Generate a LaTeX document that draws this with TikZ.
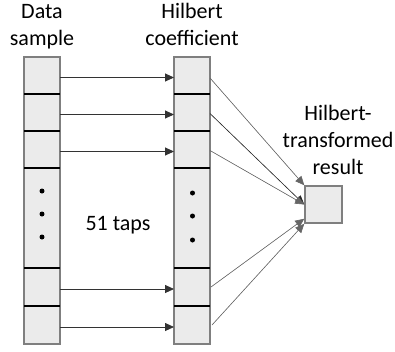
\documentclass[tikz,border=0pt]{standalone}
\usepackage{fontspec}
\setmainfont{Carlito}
\usetikzlibrary{arrows.meta}
\definecolor{cellfill}{HTML}{EBEBEB}
\definecolor{edgegray}{HTML}{7F7F7F}
\definecolor{fangray}{HTML}{666666}
\begin{document}
\begin{tikzpicture}[x=1pt,y=-1pt,
  cell/.style={minimum width=36pt,inner sep=0pt,outer sep=0pt},
  column/.style={draw=edgegray,fill=cellfill,line width=1.5pt,minimum width=36pt,inner sep=0pt,outer sep=0pt},
  sepline/.style={line width=1.3pt,black},
  feed/.style={-{Triangle[length=9pt,width=8pt]},line width=0.9pt,draw=black!80},
  fan/.style={-{Triangle[length=9pt,width=8pt]},line width=0.6pt,draw=fangray,fill=fangray},
  fandark/.style={fan,draw=black!85,fill=fangray},
  dot/.style={circle,fill=black,inner sep=0pt,minimum size=5pt},
  lbl/.style={font=\fontsize{22}{27}\selectfont,align=center,inner sep=0pt}]
\useasboundingbox (0,0) rectangle (395,351);

% column outlines
\node[column,minimum height=287pt] (LC) at (42,200.5) {};
\node[column,minimum height=287pt] (RC) at (192,200.5) {};

% tap cells of the data column
\node[cell,minimum height=37pt]  (L1) at (42,75.5) {};
\node[cell,minimum height=37pt]  (L2) at (42,112.5) {};
\node[cell,minimum height=37pt]  (L3) at (42,149.5) {};
\node[cell,minimum height=100pt] (L4) at (42,218) {};
\node[cell,minimum height=38pt]  (L5) at (42,287) {};
\node[cell,minimum height=38pt]  (L6) at (42,325) {};

% tap cells of the coefficient column
\node[cell,minimum height=37pt]  (R1) at (192,75.5) {};
\node[cell,minimum height=37pt]  (R2) at (192,112.5) {};
\node[cell,minimum height=37pt]  (R3) at (192,149.5) {};
\node[cell,minimum height=100pt] (R4) at (192,218) {};
\node[cell,minimum height=38pt]  (R5) at (192,287) {};
\node[cell,minimum height=38pt]  (R6) at (192,325) {};

% cell separators
\foreach \c in {L1,L2,L3,L4,L5,R1,R2,R3,R4,R5}
  \draw[sepline] (\c.south west) -- (\c.south east);

% ellipsis dots
\node[dot] (ld1) at (42,191) {};
\node[dot] (ld2) at (42,214) {};
\node[dot] (ld3) at (42,237) {};
\node[dot] (rd1) at (192.5,193) {};
\node[dot] (rd2) at (192.5,216) {};
\node[dot] (rd3) at (192.5,240) {};

% output box
\node[draw=edgegray,fill=cellfill,line width=1.5pt,minimum size=37pt,inner sep=0pt] (B) at (323.5,204.5) {};

% data into coefficients
\foreach \i in {1,2,3,5,6}
  \draw[feed] ([yshift=-2pt]L\i.east) -- ([yshift=-2pt]R\i.west);

% products summed into the result
\draw[fan] ([yshift=-2.5pt]R1.east) -- (B.north west);
\draw[fandark] ([yshift=-1pt]R2.east) -- (B.west);
\draw[fan] ([yshift=-1pt]R3.east) -- (B.west);
\draw[fan] ([xshift=1pt]R5.east) -- ([yshift=5pt]B.south west);
\draw[fan] ([xshift=2pt]R6.east) -- (B.south west);

% labels (base anchor sits on the last line)
\node[lbl,anchor=base] (tds) at (42,45) {Data\\sample};
\node[lbl,anchor=base] (thc) at (192,45) {Hilbert\\coefficient};
\node[lbl,anchor=base] (thr) at (338,174) {Hilbert-\\transformed\\result};
\node[lbl,anchor=base] (ttp) at (118,230) {51 taps};
\end{tikzpicture}
\end{document}
